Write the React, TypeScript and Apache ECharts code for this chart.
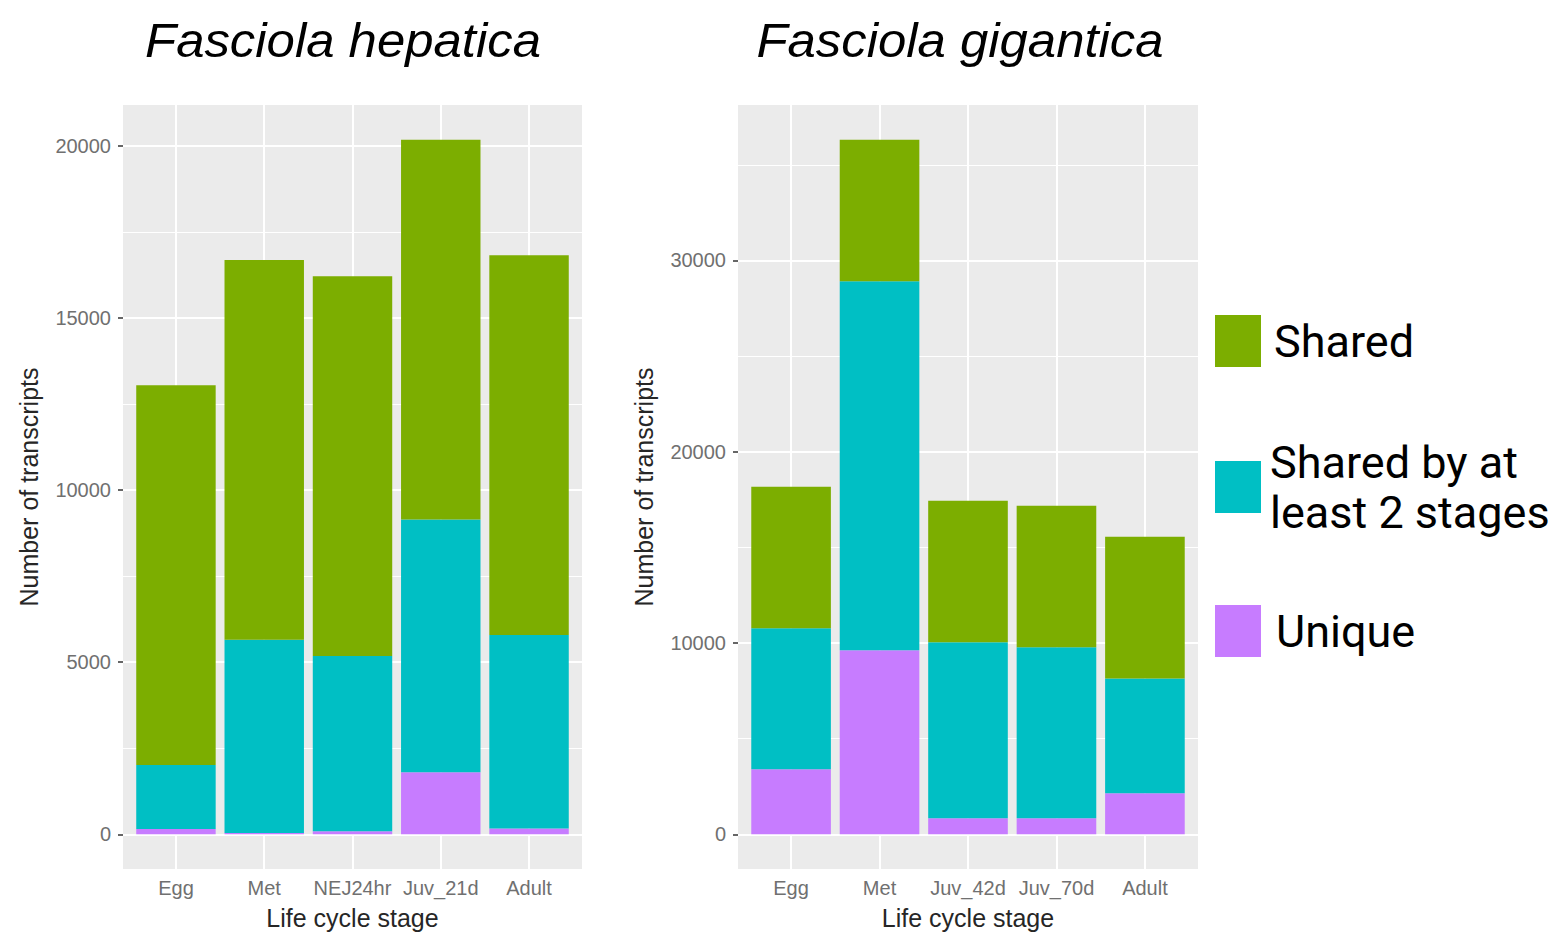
import React, { useEffect, useRef } from "react";
import * as echarts from "echarts";

// ---- Data ----
const hepStages = ["Egg", "Met", "NEJ24hr", "Juv_21d", "Adult"];
const hepUnique = [150, 40, 90, 1805, 170];
const hepShared2 = [1860, 5610, 5090, 7340, 5620];
const hepShared = [11040, 11040, 11040, 11040, 11040];

const gigStages = ["Egg", "Met", "Juv_42d", "Juv_70d", "Adult"];
const gigUnique = [3400, 9620, 840, 840, 2140];
const gigShared2 = [7370, 19290, 9200, 8940, 6010];
const gigShared = [7400, 7400, 7400, 7400, 7400];

const hepTicks = [0, 5000, 10000, 15000, 20000];
const hepMinor = [2500, 7500, 12500, 17500];
const gigTicks = [0, 10000, 20000, 30000];
const gigMinor = [5000, 15000, 25000, 35000];

const seriesNames = ["Shared", "Shared by at least 2 stages", "Unique"];
const legendLabels = ["Shared", "Shared by at\nleast 2 stages", "Unique"];
const colors = { Shared: "#7CAE00", Shared2: "#00BFC4", Unique: "#C77CFF" };

const AXIS_FONT = "Liberation Sans";

function extent(u: number[], s2: number[], s: number[]) {
  const totals = u.map((v, i) => v + s2[i] + s[i]);
  const mx = Math.max(...totals);
  return { min: -0.05 * mx, max: 1.05 * mx };
}

// panel geometry (ggplot-like: 0.6 band expansion on each side of the discrete axis)
const PANELS = [
  { left: 123, top: 105, width: 459, height: 764 },
  { left: 738, top: 105, width: 460, height: 764 },
];

export default function App() {
  const ref = useRef<HTMLDivElement>(null);
  useEffect(() => {
    if (!ref.current) return;
    const chart = echarts.init(ref.current, undefined, { renderer: "svg" });
    const hepExt = extent(hepUnique, hepShared2, hepShared);
    const gigExt = extent(gigUnique, gigShared2, gigShared);
    const xs = hepStages.map((_, i) => i + 1);

    const grids: any[] = [];
    PANELS.forEach((p) => {
      grids.push({ ...p, show: true, backgroundColor: "#EBEBEB", borderWidth: 0 });
      const band = p.width / 5.2;
      grids.push({ left: p.left + 0.1 * band, top: p.top, width: band * 5, height: p.height, show: false });
    });

    const panelX = (gridIndex: number, stages: string[]) => ({
      type: "value",
      gridIndex,
      min: 0.4,
      max: 5.6,
      name: "Life cycle stage",
      nameLocation: "middle",
      nameGap: 36,
      nameTextStyle: { fontFamily: AXIS_FONT, fontSize: 25, color: "#262626" },
      axisLine: { show: false },
      axisTick: {
        show: true,
        customValues: xs,
        length: 5,
        lineStyle: { color: "#333", width: 1.5 },
      },
      axisLabel: {
        customValues: xs,
        formatter: (v: number) => stages[Math.round(v) - 1] ?? "",
        fontFamily: AXIS_FONT,
        fontSize: 20,
        color: "#707070",
        margin: 9,
      },
      splitLine: { show: false },
    });

    const barX = (gridIndex: number, stages: string[]) => ({
      type: "category",
      gridIndex,
      data: stages,
      boundaryGap: true,
      show: false,
    });

    const panelY = (gridIndex: number, ext: { min: number; max: number }, ticks: number[]) => ({
      type: "value",
      gridIndex,
      min: ext.min,
      max: ext.max,
      name: "Number of transcripts",
      nameLocation: "middle",
      nameGap: 82,
      nameTextStyle: { fontFamily: AXIS_FONT, fontSize: 25, color: "#262626" },
      axisLine: { show: false },
      axisTick: {
        show: true,
        customValues: ticks,
        length: 5,
        lineStyle: { color: "#333", width: 1.5 },
      },
      axisLabel: {
        customValues: ticks,
        formatter: (v: number) => String(Math.round(v)),
        fontFamily: AXIS_FONT,
        fontSize: 20,
        color: "#707070",
        margin: 12,
      },
      splitLine: { show: false },
    });

    const barY = (gridIndex: number, ext: { min: number; max: number }) => ({
      type: "value",
      gridIndex,
      min: ext.min,
      max: ext.max,
      show: false,
      splitLine: { show: false },
    });

    const gridSeries = (idx: number, majors: number[], minors: number[]) => ({
      type: "line",
      xAxisIndex: idx,
      yAxisIndex: idx,
      data: [],
      z: 1,
      silent: true,
      markLine: {
        z: 1,
        silent: true,
        symbol: ["none", "none"],
        label: { show: false },
        emphasis: { disabled: true },
        data: [
          ...minors.map((v) => ({ yAxis: v, lineStyle: { color: "#fff", width: 1, type: "solid" } })),
          ...majors.map((v) => ({ yAxis: v, lineStyle: { color: "#fff", width: 2, type: "solid" } })),
          ...xs.map((v) => ({ xAxis: v, lineStyle: { color: "#fff", width: 2, type: "solid" } })),
        ],
      },
    });

    const barSeries = (idx: number, stack: string, u: number[], s2: number[], s: number[]) =>
      [
        { name: seriesNames[2], values: u, color: colors.Unique },
        { name: seriesNames[1], values: s2, color: colors.Shared2 },
        { name: seriesNames[0], values: s, color: colors.Shared },
      ].map((d) => ({
        type: "bar",
        name: d.name,
        stack,
        xAxisIndex: idx,
        yAxisIndex: idx,
        barWidth: "90%",
        z: 10,
        itemStyle: { color: d.color },
        emphasis: { disabled: true },
        data: d.values,
      }));

    const legendFor = (i: number, top: number, padLeft: number) => ({
      show: true,
      orient: "vertical",
      left: 1215,
      top,
      padding: 0,
      data: [seriesNames[i]],
      icon: "rect",
      itemWidth: 46,
      itemHeight: 52,
      selectedMode: false,
      formatter: () => legendLabels[i],
      textStyle: {
        fontFamily: "Roboto",
        fontSize: 45,
        color: "#000",
        lineHeight: 50,
        padding: [0, 0, 0, padLeft],
      },
    });

    const titleText = (x: number, text: string) => ({
      type: "text",
      x,
      y: 40,
      scaleX: 1.06,
      style: {
        text,
        font: "italic 48px 'Liberation Sans'",
        fill: "#000",
        textAlign: "center",
        textVerticalAlign: "middle",
      },
    });

    chart.setOption({
      animation: false,
      backgroundColor: "#ffffff",
      grid: grids,
      xAxis: [panelX(0, hepStages), barX(1, hepStages), panelX(2, gigStages), barX(3, gigStages)],
      yAxis: [panelY(0, hepExt, hepTicks), barY(1, hepExt), panelY(2, gigExt, gigTicks), barY(3, gigExt)],
      legend: [legendFor(0, 315, 8), legendFor(1, 437, 4), legendFor(2, 605, 10)],
      graphic: [titleText(343, "Fasciola hepatica"), titleText(960, "Fasciola gigantica")],
      series: [
        gridSeries(0, hepTicks, hepMinor),
        gridSeries(2, gigTicks, gigMinor),
        ...barSeries(1, "hep", hepUnique, hepShared2, hepShared),
        ...barSeries(3, "gig", gigUnique, gigShared2, gigShared),
      ],
    });
    return () => chart.dispose();
  }, []);
  return (
    <div
      ref={ref}
      style={{ position: "absolute", left: 0, top: 0, width: 1561, height: 940, background: "#fff" }}
    />
  );
}
